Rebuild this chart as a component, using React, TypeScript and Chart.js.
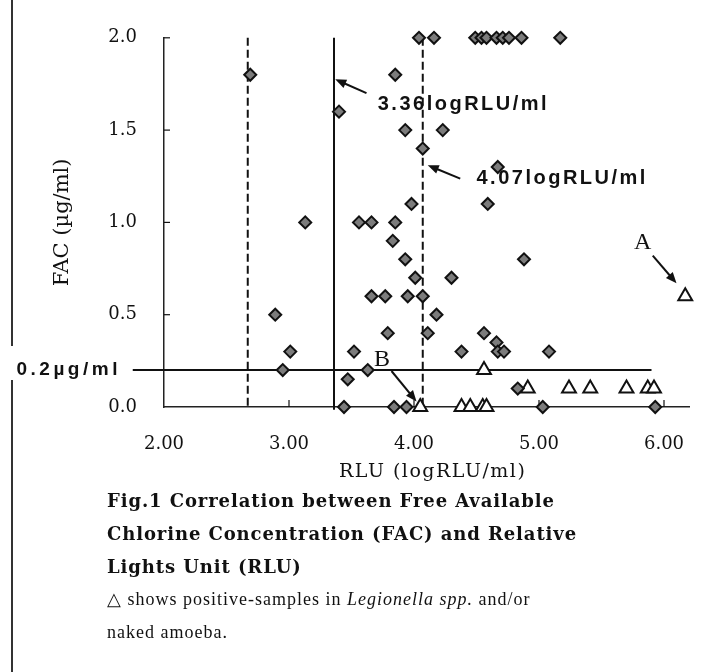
import React, { useEffect, useRef } from 'react';
import { Chart, registerables } from 'chart.js';

Chart.register(...registerables);

// FAC-negative samples (diamonds): RLU (logRLU/ml) and FAC (µg/ml)
const diamondX = [
  4.04, 4.16, 4.49, 4.54, 4.58, 4.66, 4.71, 4.76, 4.86, 5.17,
  2.69, 3.85, 3.40, 3.93, 4.23, 4.07, 4.67, 3.98, 4.59,
  3.13, 3.56, 3.66, 3.85, 3.83, 3.93, 4.88, 4.01, 4.30,
  3.66, 3.77, 3.95, 4.07, 2.89, 4.18, 3.79, 4.11, 4.56, 4.66,
  3.01, 3.52, 4.38, 4.67, 4.72, 5.08, 2.95, 3.63, 3.47, 4.83,
  3.44, 3.84, 3.94, 5.03, 5.93,
];
const diamondY = [
  2.0, 2.0, 2.0, 2.0, 2.0, 2.0, 2.0, 2.0, 2.0, 2.0,
  1.8, 1.8, 1.6, 1.5, 1.5, 1.4, 1.3, 1.1, 1.1,
  1.0, 1.0, 1.0, 1.0, 0.9, 0.8, 0.8, 0.7, 0.7,
  0.6, 0.6, 0.6, 0.6, 0.5, 0.5, 0.4, 0.4, 0.4, 0.35,
  0.3, 0.3, 0.3, 0.3, 0.3, 0.3, 0.2, 0.2, 0.15, 0.1,
  0.0, 0.0, 0.0, 0.0, 0.0,
];
// Positive samples (triangles)
const triangleX = [4.05, 4.38, 4.45, 4.55, 4.58, 4.56, 4.91, 5.24, 5.41, 5.70, 5.87, 5.92, 6.17];
const triangleY = [0.0, 0.0, 0.0, 0.0, 0.0, 0.2, 0.1, 0.1, 0.1, 0.1, 0.1, 0.1, 0.6];

const xTicks = [2, 3, 4, 5, 6];
const yTicks = [0, 0.5, 1.0, 1.5, 2.0];
const solidThreshold = 3.36;
const dashedThresholds = [2.67, 4.07];
const facLimit = 0.2;

const notes = [
  { text: '3.36logRLU/ml', x: 3.71, y: 1.64, font: 'bold 20px "Liberation Sans"', spacing: '2.5px', arrow: [3.62, 1.70, 3.37, 1.775] },
  { text: '4.07logRLU/ml', x: 4.50, y: 1.24, font: 'bold 20px "Liberation Sans"', spacing: '2.5px', arrow: [4.37, 1.237, 4.11, 1.31] },
  { text: 'A', x: 5.76, y: 0.89, font: '24px "Liberation Serif"', spacing: '0px', arrow: [5.91, 0.82, 6.10, 0.67] },
  { text: 'B', x: 3.68, y: 0.257, font: '24px "Liberation Serif"', spacing: '0px', arrow: [3.82, 0.195, 4.02, 0.03] },
];

function arrow(ctx: CanvasRenderingContext2D, x1: number, y1: number, x2: number, y2: number) {
  const ang = Math.atan2(y2 - y1, x2 - x1);
  ctx.beginPath();
  ctx.moveTo(x1, y1);
  ctx.lineTo(x2 - 6 * Math.cos(ang), y2 - 6 * Math.sin(ang));
  ctx.stroke();
  const L = 11, W = 4.5;
  ctx.beginPath();
  ctx.moveTo(x2, y2);
  ctx.lineTo(x2 - L * Math.cos(ang) + W * Math.sin(ang), y2 - L * Math.sin(ang) - W * Math.cos(ang));
  ctx.lineTo(x2 - L * Math.cos(ang) - W * Math.sin(ang), y2 - L * Math.sin(ang) + W * Math.cos(ang));
  ctx.closePath();
  ctx.fill();
}

const overlay = {
  id: 'overlay',
  beforeDatasetsDraw(chart: any) {
    const { ctx, scales } = chart;
    const x = scales.x, y = scales.y;
    ctx.save();
    ctx.strokeStyle = '#111';
    ctx.lineWidth = 1.2;
    yTicks.forEach((v) => {
      if (v === 0) return;
      const py = y.getPixelForValue(v);
      ctx.beginPath(); ctx.moveTo(x.left, py); ctx.lineTo(x.left + 6, py); ctx.stroke();
    });
    xTicks.forEach((v) => {
      if (v === 2) return;
      const px = x.getPixelForValue(v);
      ctx.beginPath(); ctx.moveTo(px, y.bottom); ctx.lineTo(px, y.bottom - 7); ctx.stroke();
    });
    // 0.2 µg/ml limit
    ctx.lineWidth = 2;
    const py = y.getPixelForValue(facLimit);
    ctx.beginPath();
    ctx.moveTo(x.getPixelForValue(1.75), py);
    ctx.lineTo(x.getPixelForValue(5.90), py);
    ctx.stroke();
    // thresholds
    const top = y.getPixelForValue(2.0), bot = y.getPixelForValue(-0.015);
    ctx.beginPath();
    ctx.moveTo(x.getPixelForValue(solidThreshold), top);
    ctx.lineTo(x.getPixelForValue(solidThreshold), bot);
    ctx.stroke();
    ctx.setLineDash([8, 4]);
    dashedThresholds.forEach((v) => {
      ctx.beginPath();
      ctx.moveTo(x.getPixelForValue(v), top);
      ctx.lineTo(x.getPixelForValue(v), bot);
      ctx.stroke();
    });
    ctx.restore();
  },
  afterDatasetsDraw(chart: any) {
    const { ctx, scales } = chart;
    const x = scales.x, y = scales.y;
    ctx.save();
    ctx.fillStyle = '#111';
    ctx.strokeStyle = '#111';
    ctx.lineWidth = 2;
    ctx.textBaseline = 'middle';
    ctx.textAlign = 'left';
    notes.forEach((n) => {
      ctx.font = n.font;
      (ctx as any).letterSpacing = n.spacing;
      ctx.fillText(n.text, x.getPixelForValue(n.x), y.getPixelForValue(n.y));
      const [a, b, c, d] = n.arrow;
      arrow(ctx, x.getPixelForValue(a), y.getPixelForValue(b), x.getPixelForValue(c), y.getPixelForValue(d));
    });
    ctx.font = 'bold 19px "Liberation Sans"';
    (ctx as any).letterSpacing = '3.5px';
    ctx.fillText('0.2µg/ml', x.getPixelForValue(0.82), y.getPixelForValue(facLimit));
    ctx.restore();
  },
};

export default function App() {
  const ref = useRef<HTMLCanvasElement | null>(null);
  useEffect(() => {
    if (!ref.current) return;
    const chart = new Chart(ref.current, {
      type: 'scatter',
      data: {
        datasets: [
          {
            label: 'FAC',
            data: diamondX.map((v, i) => ({ x: v, y: diamondY[i] })),
            pointStyle: 'rectRot',
            pointRadius: 6,
            pointBackgroundColor: '#7c7c7c',
            pointBorderColor: '#111',
            pointBorderWidth: 2,
            clip: false,
          } as any,
          {
            label: 'Positive',
            data: triangleX.map((v, i) => ({ x: v, y: triangleY[i] })),
            pointStyle: 'triangle',
            pointRadius: 8,
            pointBackgroundColor: '#fff',
            pointBorderColor: '#111',
            pointBorderWidth: 2,
            clip: false,
          } as any,
        ],
      },
      options: {
        animation: false,
        responsive: false,
        layout: { padding: { top: 35.5, right: 32, left: 0, bottom: 0 } },
        plugins: { legend: { display: false }, tooltip: { enabled: false } },
        scales: {
          x: {
            type: 'linear',
            min: 2,
            max: 6.2,
            afterBuildTicks: (s: any) => { s.ticks = xTicks.map((v) => ({ value: v })); },
            afterFit: (s: any) => { s.height = 53; },
            grid: { display: false, drawTicks: false },
            border: { display: true, color: '#222', width: 1.5 },
            ticks: {
              padding: 27,
              color: '#111',
              font: { family: 'DejaVu Serif', size: 18 },
              callback: (v: any) => Number(v).toFixed(2),
              maxRotation: 0,
            },
          },
          y: {
            type: 'linear',
            min: 0,
            max: 2,
            afterBuildTicks: (s: any) => { s.ticks = yTicks.map((v) => ({ value: v })); },
            afterFit: (s: any) => { s.width = 164; },
            grid: { display: false, drawTicks: false },
            border: { display: true, color: '#222', width: 1.5 },
            ticks: {
              padding: 27,
              color: '#111',
              font: { family: 'DejaVu Serif', size: 18 },
              callback: (v: any) => Number(v).toFixed(1),
            },
            title: {
              display: true,
              text: 'FAC (µg/ml)',
              color: '#111',
              font: { family: 'DejaVu Serif', size: 21 },
              padding: { top: 50, bottom: 0 },
            },
          },
        },
      },
      plugins: [overlay],
    });
    return () => chart.destroy();
  }, []);

  const capStrong: React.CSSProperties = {
    fontFamily: '"DejaVu Serif"', fontWeight: 'bold', fontSize: 18, height: 33, lineHeight: '33px', letterSpacing: '0.9px', whiteSpace: 'nowrap',
  };
  const capSmall: React.CSSProperties = {
    fontFamily: '"Liberation Serif"', fontSize: 18, height: 33, lineHeight: '33px', letterSpacing: '1px', whiteSpace: 'nowrap',
  };

  return (
    <div style={{ position: 'fixed', left: 0, top: 0, width: 721, height: 672, background: '#fff', overflow: 'hidden', color: '#111' }}>
      <canvas ref={ref} width={721} height={460} style={{ position: 'absolute', left: 0, top: 0, width: 721, height: 460 }} />
      <div style={{ position: 'absolute', left: 11, top: 0, width: 1.5, height: 346, background: '#333' }} />
      <div style={{ position: 'absolute', left: 11, top: 380, width: 1.5, height: 292, background: '#333' }} />
      <div style={{ position: 'absolute', left: 339, top: 457, fontFamily: '"DejaVu Serif"', fontSize: 19, lineHeight: '26px', letterSpacing: '1.5px', whiteSpace: 'nowrap' }}>
        RLU (logRLU/ml)
      </div>
      <div style={{ position: 'absolute', left: 107, top: 484 }}>
        <div style={capStrong}>Fig.1 Correlation between Free Available</div>
        <div style={capStrong}>Chlorine Concentration (FAC) and Relative</div>
        <div style={capStrong}>Lights Unit (RLU)</div>
        <div style={capSmall}>△ shows positive-samples in <i>Legionella spp.</i> and/or</div>
        <div style={capSmall}>naked amoeba.</div>
      </div>
    </div>
  );
}
